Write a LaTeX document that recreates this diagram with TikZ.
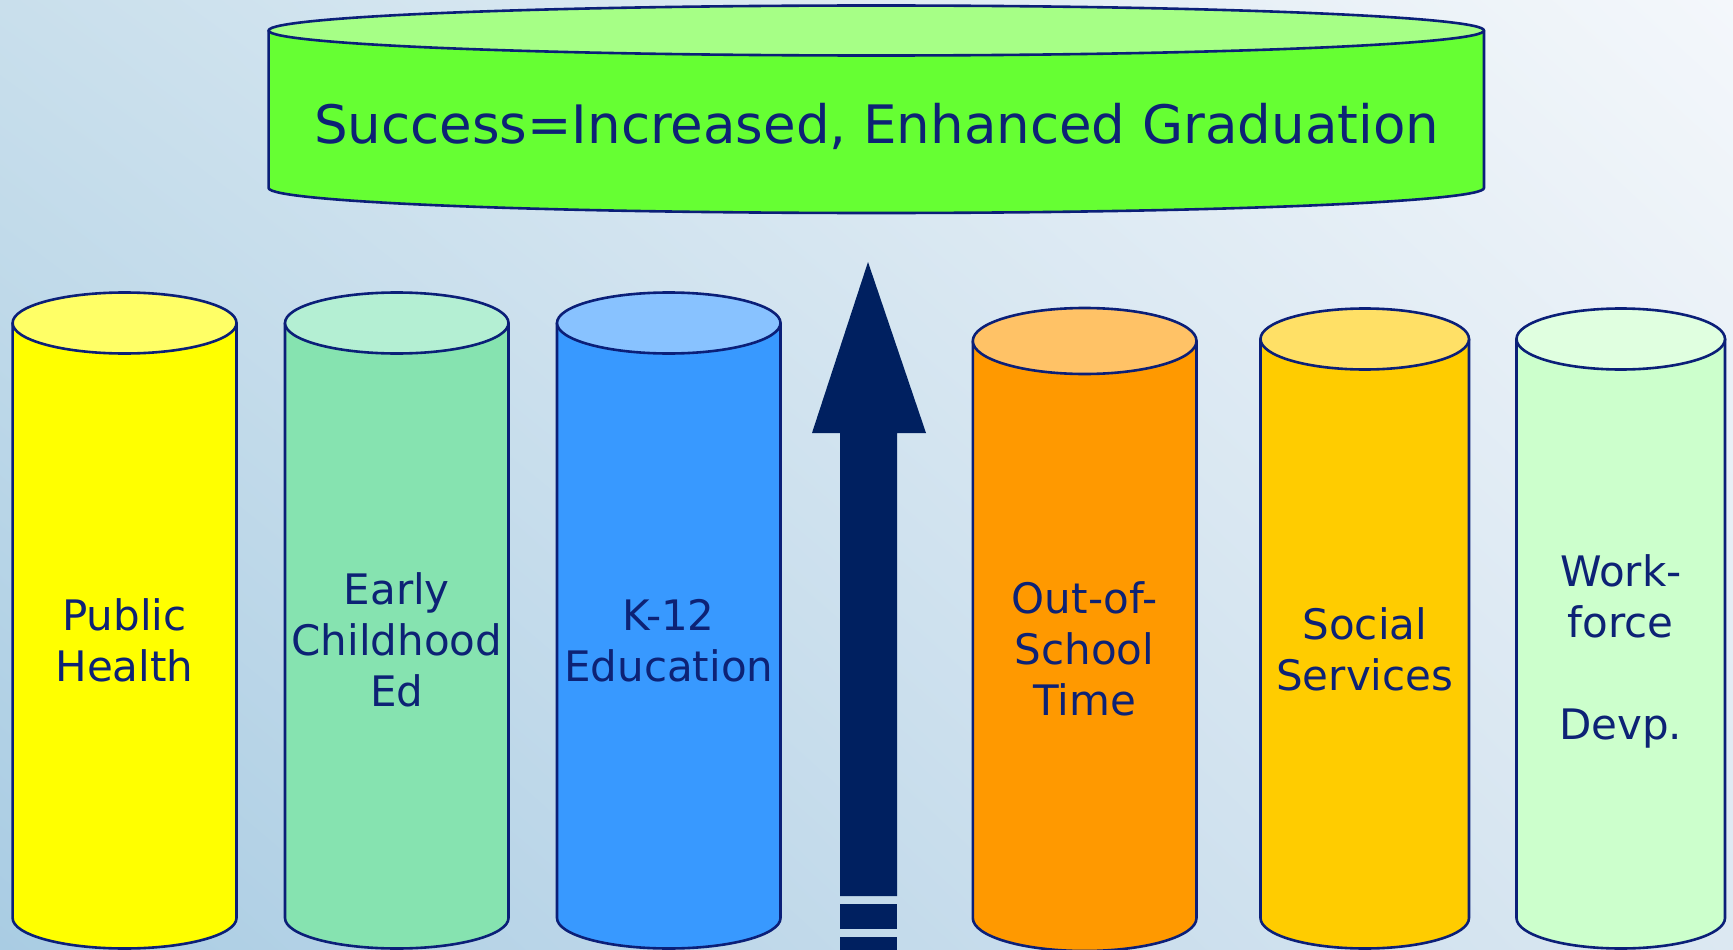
\documentclass[tikz,border=0pt]{standalone}
\usepackage{fontspec}
\setmainfont{DejaVu Sans}
\usetikzlibrary{shadings}
\definecolor{outl}{HTML}{0B1F78}
\definecolor{txt}{HTML}{0D2275}
\definecolor{arrowc}{HTML}{002060}
\definecolor{bgUL}{HTML}{C9DFEC}
\definecolor{bgUR}{HTML}{F4F7FB}
\definecolor{bgLL}{HTML}{A9CCE3}
\definecolor{bgLR}{HTML}{DCE8F2}
\definecolor{phB}{HTML}{FFFF00}\definecolor{phT}{HTML}{FFFF66}
\definecolor{ecB}{HTML}{86E3B0}\definecolor{ecT}{HTML}{B4EFD3}
\definecolor{keB}{HTML}{3899FF}\definecolor{keT}{HTML}{88C2FF}
\definecolor{osB}{HTML}{FF9900}\definecolor{osT}{HTML}{FFC266}
\definecolor{ssB}{HTML}{FFCC00}\definecolor{ssT}{HTML}{FFE066}
\definecolor{wfB}{HTML}{CCFFCC}\definecolor{wfT}{HTML}{E0FFE0}
\definecolor{goB}{HTML}{66FF33}\definecolor{goT}{HTML}{A6FF86}
\newcommand{\drawcyl}[7]{%
  \pgfmathsetmacro\cylcx{(#1+#2)/2}%
  \pgfmathsetmacro\cylrx{(#2-#1)/2}%
  \filldraw[cylline, fill=#6] (#1,#3) -- (#1,#5)
     arc[start angle=180, end angle=0, x radius=\cylrx, y radius=#4] -- (#2,#3) -- cycle;
  \filldraw[cylline, fill=#7] (\cylcx,#3) ellipse[x radius=\cylrx, y radius=#4];
}
\newcommand{\stacklines}[1]{\begin{tabular}[t]{@{}c@{}}#1\end{tabular}}
\begin{document}
\begin{tikzpicture}[x=1pt,y=-1pt,
  cylline/.style={draw=outl, line width=2.6pt, line join=round},
  lbl/.style={text=txt, anchor=base, inner sep=0pt, font=\fontsize{42}{51}\selectfont},
  toplbl/.style={text=txt, anchor=base, inner sep=0pt, font=\fontsize{53}{64}\selectfont}]
\useasboundingbox (0,0) rectangle (1733,950);
\shade[upper left=bgUL, upper right=bgUR, lower left=bgLL, lower right=bgLR] (0,0) rectangle (1733,950);
% goal cylinder
\drawcyl{268.6}{1484}{30.5}{25}{188}{goB}{goT}
\node[toplbl] (goal) at (876.5,143) {Success=Increased, Enhanced Graduation};
% pillars
\drawcyl{12.6}{236.5}{323}{30.5}{918}{phB}{phT}
\drawcyl{285}{508.5}{323}{30.5}{918}{ecB}{ecT}
\drawcyl{557}{780.5}{323}{30.5}{918}{keB}{keT}
\drawcyl{972.8}{1196.5}{341}{33}{918}{osB}{osT}
\drawcyl{1260.5}{1469}{339}{30.5}{918}{ssB}{ssT}
\drawcyl{1516.5}{1725}{339}{30.5}{918}{wfB}{wfT}
\node[lbl] (ph) at (124.5,630) {\stacklines{Public\\Health}};
\node[lbl] (ec) at (396.8,604) {\stacklines{Early\\Childhood\\Ed}};
\node[lbl] (ke) at (668.8,630) {\stacklines{K-12\\Education}};
\node[lbl] (os) at (1084.6,613) {\stacklines{Out-of-\\School\\Time}};
\node[lbl] (ss) at (1364.8,639) {\stacklines{Social\\Services}};
\node[lbl] (wf) at (1620.8,586) {\stacklines{Work-\\force\\ \\Devp.}};
% arrow
\fill[arrowc] (868,262) -- (926,433) -- (897,433) -- (897,896) -- (840,896) -- (840,433) -- (812,433) -- cycle;
\fill[arrowc] (840,904) rectangle (897,929);
\fill[arrowc] (840,937) rectangle (897,950);
\end{tikzpicture}
\end{document}
